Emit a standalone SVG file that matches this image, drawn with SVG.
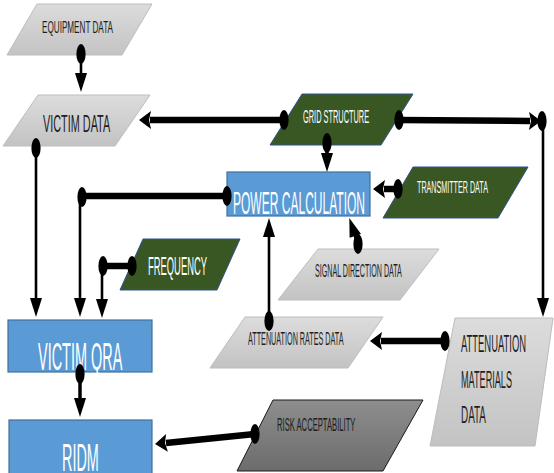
<svg xmlns="http://www.w3.org/2000/svg" width="554" height="473" viewBox="0 0 554 473">
<style>
.lg{fill:url(#gLight);stroke:#bdbdbd;stroke-width:1}
.dg{fill:#385723;stroke:#2f528f;stroke-width:1}
.bl{fill:#5b9bd5;stroke:#41719c;stroke-width:1.2}
.rk{fill:url(#gDark);stroke:#1a1a1a;stroke-width:1}
text{font-family:"Liberation Sans",Arial,sans-serif}
.tk{fill:#1e1e1e}
.tw{fill:#ffffff}
.thin{fill:none;stroke:#000;stroke-width:2.6}
.mid{fill:none;stroke:#000;stroke-width:3.5}
.thick{fill:none;stroke:#000;stroke-width:6.5}
</style>
<defs>
<linearGradient id="gLight" x1="0" y1="0" x2="0" y2="1"><stop offset="0" stop-color="#dcdcdc"/><stop offset="1" stop-color="#c3c3c3"/></linearGradient>
<linearGradient id="gDark" x1="0" y1="0" x2="0" y2="1"><stop offset="0" stop-color="#8e8e8e"/><stop offset="1" stop-color="#6c6c6c"/></linearGradient>
<marker id="ah" markerUnits="userSpaceOnUse" markerWidth="20" markerHeight="12" refX="1" refY="6" orient="auto" overflow="visible"><path d="M0,0 L19,6 L0,12 z" fill="#000"/></marker>
<marker id="aT" markerUnits="userSpaceOnUse" markerWidth="14" markerHeight="18" refX="1" refY="9" orient="auto" overflow="visible"><path d="M0,0 L12,9 L0,18 L2,9 z" fill="#000"/></marker>
<marker id="ball" markerUnits="userSpaceOnUse" markerWidth="10" markerHeight="22" refX="5" refY="11" orient="0" overflow="visible"><ellipse cx="5" cy="11" rx="4.6" ry="10" fill="#000"/></marker>
</defs>

<g id="equipment-data">
<polygon class="lg" points="37,4 152,4 122,55 7,55"/>
<text class="tk" transform="translate(42,33) scale(0.47,1)" font-size="17" textLength="151" lengthAdjust="spacingAndGlyphs">EQUIPMENT DATA</text>
</g>
<g id="victim-data">
<polygon class="lg" points="38,95 150,95 115,146 3,146"/>
<text class="tk" transform="translate(43,132) scale(0.46,1)" font-size="23" textLength="146" lengthAdjust="spacingAndGlyphs">VICTIM DATA</text>
</g>
<g id="grid-structure">
<polygon class="dg" points="302,94 413,94 381,145 270,145"/>
<text class="tw" transform="translate(303,123) scale(0.38,1)" font-size="19" textLength="174" lengthAdjust="spacingAndGlyphs">GRID STRUCTURE</text>
</g>
<g id="power-calculation">
<rect class="bl" x="227" y="172" width="143" height="44"/>
<text class="tw" transform="translate(233,214) scale(0.385,1)" font-size="31" textLength="343" lengthAdjust="spacingAndGlyphs">POWER CALCULATION</text>
</g>
<g id="transmitter-data">
<polygon class="dg" points="413,167 528,167 498,218 383,218"/>
<text class="tw" transform="translate(417,193) scale(0.415,1)" font-size="17" textLength="171" lengthAdjust="spacingAndGlyphs">TRANSMITTER DATA</text>
</g>
<g id="frequency">
<polygon class="dg" points="143,239 240,239 217,290 120,290"/>
<text class="tw" transform="translate(148,275) scale(0.376,1)" font-size="25" textLength="157" lengthAdjust="spacingAndGlyphs">FREQUENCY</text>
</g>
<g id="signal-direction-data">
<polygon class="lg" points="318,249 439,249 400,300 278,300"/>
<text class="tk" transform="translate(315,277) scale(0.365,1)" font-size="19" textLength="238" lengthAdjust="spacingAndGlyphs">SIGNAL DIRECTION DATA</text>
</g>
<g id="attenuation-rates-data">
<polygon class="lg" points="245,317 383,317 348,368 210,368"/>
<text class="tk" transform="translate(248,345) scale(0.39,1)" font-size="18" textLength="245" lengthAdjust="spacingAndGlyphs">ATTENUATION RATES DATA</text>
</g>
<g id="attenuation-materials-data">
<polygon class="lg" points="455,318 553,318 535,446 430,446"/>
<text class="tk" transform="translate(461,352) scale(0.385,1)" font-size="24" textLength="169" lengthAdjust="spacingAndGlyphs">ATTENUATION</text>
<text class="tk" transform="translate(461,388) scale(0.375,1)" font-size="24" textLength="136" lengthAdjust="spacingAndGlyphs">MATERIALS</text>
<text class="tk" transform="translate(461,423) scale(0.39,1)" font-size="24" textLength="64" lengthAdjust="spacingAndGlyphs">DATA</text>
</g>
<g id="victim-qra">
<rect class="bl" x="8" y="320" width="144" height="52"/>
<text class="tw" transform="translate(38,370) scale(0.38,1)" font-size="38" textLength="222" lengthAdjust="spacingAndGlyphs">VICTIM QRA</text>
</g>
<g id="ridm">
<rect class="bl" x="9" y="420" width="143" height="55"/>
<text class="tw" transform="translate(62,471) scale(0.38,1)" font-size="38" textLength="97" lengthAdjust="spacingAndGlyphs">RIDM</text>
</g>
<g id="risk-acceptability">
<polygon class="rk" points="273,400 423,400 383,471 237,471"/>
<text class="tk" transform="translate(277,431) scale(0.39,1)" font-size="19" textLength="201" lengthAdjust="spacingAndGlyphs">RISK ACCEPTABILITY</text>
</g>

<g id="connectors">
<path class="thin" d="M81,54 V74" marker-start="url(#ball)" marker-end="url(#ah)"/>
<path class="thick" d="M284,120 H150" marker-start="url(#ball)" marker-end="url(#aT)"/>
<path class="thick" d="M399,120 L530,121" marker-start="url(#ball)" marker-end="url(#aT)"/>
<ellipse cx="542" cy="121" rx="4.6" ry="10" fill="#000"/>
<path class="thin" d="M543,128 V299" marker-end="url(#ah)"/>
<path class="mid" d="M327,143 V154" marker-start="url(#ball)" marker-end="url(#ah)"/>
<path class="thick" d="M398,189 H384" marker-start="url(#ball)" marker-end="url(#aT)"/>
<path class="thick" d="M227,196 H86" marker-start="url(#ball)"/>
<ellipse cx="82" cy="197" rx="4.6" ry="10" fill="#000"/>
<path class="thin" d="M80,200 V299" marker-end="url(#ah)"/>
<path class="thin" d="M36,148 V299" marker-start="url(#ball)" marker-end="url(#ah)"/>
<path class="thick" d="M132,266 H103" marker-start="url(#ball)" marker-end="url(#ball)"/>
<path class="thin" d="M102,268 V300" marker-end="url(#ah)"/>
<path class="mid" d="M358,244 L355,235" marker-start="url(#ball)" marker-end="url(#ah)"/>
<path class="thin" d="M269,321 V236" marker-start="url(#ball)" marker-end="url(#ah)"/>
<path class="thick" d="M445,341 H381" marker-start="url(#ball)" marker-end="url(#aT)"/>
<path class="mid" d="M80,374 V399" marker-start="url(#ball)" marker-end="url(#ah)"/>
<path class="thick" d="M255,434 L166,443" marker-start="url(#ball)" marker-end="url(#aT)"/>
</g>
</svg>
